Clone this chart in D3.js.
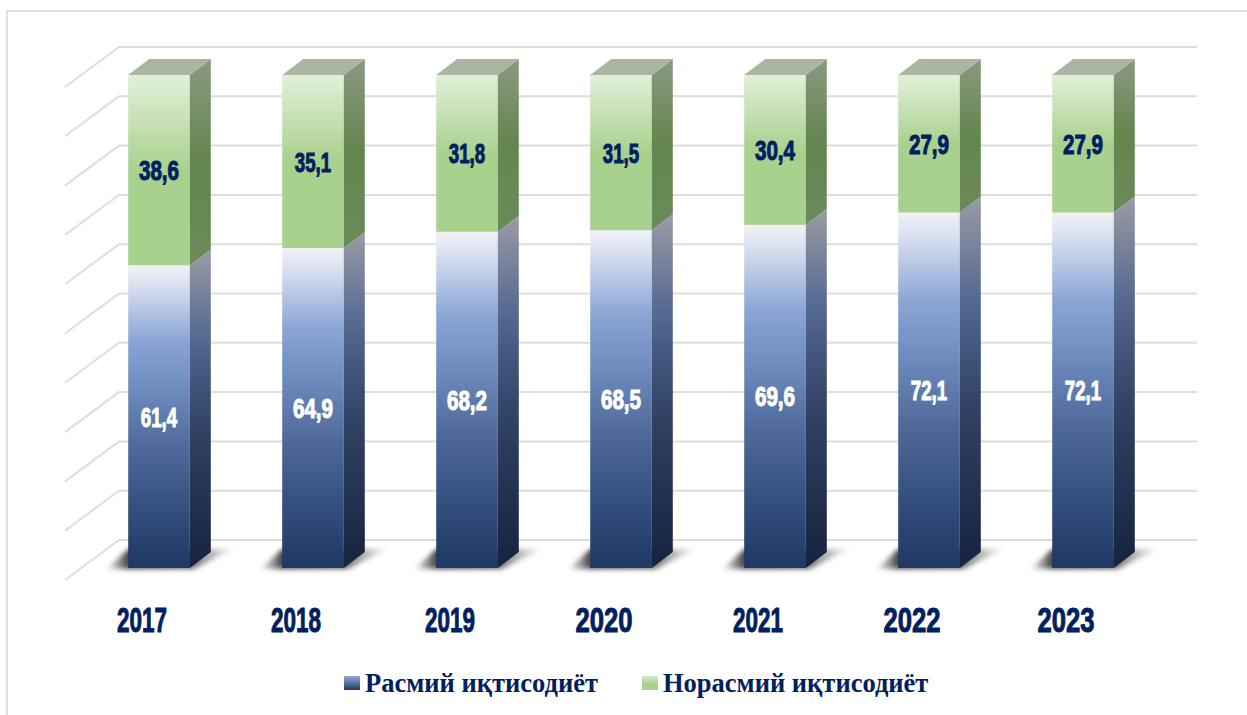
<!DOCTYPE html>
<html>
<head>
<meta charset="utf-8">
<script src="https://cdnjs.cloudflare.com/ajax/libs/d3/7.8.5/d3.min.js"></script>
<style>
  html, body { margin: 0; padding: 0; background: #fff; overflow: hidden; }
</style>
</head>
<body>
<div id="chart"></div>
<script>
// Data
const years = ["2017", "2018", "2019", "2020", "2021", "2022", "2023"];
const formal = [61.4, 64.9, 68.2, 68.5, 69.6, 72.1, 72.1];
const informal = [38.6, 35.1, 31.8, 31.5, 30.4, 27.9, 27.9];
const gridTicks = [0, 10, 20, 30, 40, 50, 60, 70, 80, 90, 100];
const seriesNames = ["Расмий иқтисодиёт", "Норасмий иқтисодиёт"];

const width = 1247, height = 715;
const navy = "#002060";

const svg = d3.select("#chart")
  .append("svg")
  .attr("width", width)
  .attr("height", height);

// Frame of the picture (top and left only)
svg.append("path")
  .attr("d", "M7,715V11H1247")
  .attr("fill", "none")
  .attr("stroke", "#e0e0e0")
  .attr("stroke-width", 2);

// Scales for the front plane of the 3D box
const xScale = d3.scaleBand()
  .domain(years)
  .range([65, 1143])
  .paddingInner(0.6)
  .paddingOuter(0.3);

const yScale = d3.scaleLinear()
  .domain([0, 100])
  .range([580, 87]);

// 3D offsets
const back = { x: 54, y: -40 };
const barShift = { x: 17, y: -12 };
const depth = { x: 21, y: -16 };

const defs = svg.append("defs");

function addGradient(id, stops, horizontal) {
  const g = defs.append("linearGradient")
    .attr("id", id)
    .attr("x1", 0).attr("y1", 0)
    .attr("x2", horizontal ? 1 : 0).attr("y2", horizontal ? 0 : 1);
  stops.forEach(s => g.append("stop")
    .attr("offset", s[0])
    .attr("stop-color", s[1])
    .attr("stop-opacity", s[2] === undefined ? 1 : s[2]));
}

addGradient("blueFront", [[0, "#f2f2f6"], [0.08, "#d3dcee"], [0.25, "#8aa5d5"], [0.38, "#7390c4"], [0.6, "#4f6a9a"], [0.8, "#34507f"], [1, "#1f3864"]]);
addGradient("blueSide", [[0, "#9b9ba6"], [0.25, "#5a6d92"], [0.38, "#46597f"], [0.6, "#2e3f60"], [1, "#15233f"]]);
addGradient("greenFront", [[0, "#e2f0d9"], [0.5, "#a9d18e"], [1, "#a9d18e"]]);
addGradient("greenSide", [[0, "#8a9a80"], [0.5, "#64854f"], [1, "#6b8a5a"]]);
addGradient("legendBlue", [[0, "#8faadc"], [1, "#1f3864"]]);
addGradient("legendGreen", [[0, "#d5e8c8"], [0.6, "#a9d18e"], [1, "#a9d18e"]]);
addGradient("floorShadow", [[0, "#777", 0.1], [0.17, "#444", 1], [0.65, "#555", 0.95], [1, "#999", 0.1]], true);

defs.append("filter")
  .attr("id", "blur")
  .attr("x", "-20%").attr("y", "-50%")
  .attr("width", "140%").attr("height", "200%")
  .append("feGaussianBlur")
  .attr("stdDeviation", 2.5);

// Gridlines: back wall and left wall
const grid = svg.append("g")
  .attr("stroke", "#dddddd")
  .attr("stroke-width", 2)
  .attr("fill", "none");

grid.selectAll("path")
  .data(gridTicks)
  .enter().append("path")
  .attr("d", d => {
    const x0 = xScale.range()[0], x1 = xScale.range()[1];
    const y = yScale(d);
    return `M${x0},${y}L${x0 + back.x},${y + back.y}H${x1 + back.x}`;
  });

// Soft shadow on the floor
const barW = xScale.bandwidth();
svg.append("g")
  .selectAll("path")
  .data(years)
  .enter().append("path")
  .attr("filter", "url(#blur)")
  .attr("fill", "url(#floorShadow)")
  .attr("d", d => {
    const x0 = xScale(d) + barShift.x, y0 = yScale(0) + barShift.y;
    return `M${x0 - 22},${y0 + 1}L${x0 + barW + 4},${y0 + 1}L${x0 + barW + 44},${y0 - 19}L${x0},${y0 - 19}Z`;
  });

// Stacked 3D bars
function drawSegment(year, from, to, front, side) {
  const x0 = xScale(year) + barShift.x;
  const x1 = x0 + barW;
  const yTop = yScale(to) + barShift.y;
  const yBot = yScale(from) + barShift.y;
  svg.append("rect")
    .attr("x", x0).attr("y", yTop)
    .attr("width", barW).attr("height", yBot - yTop)
    .attr("fill", `url(#${front})`);
  svg.append("path")
    .attr("d", `M${x1},${yTop}L${x1 + depth.x},${yTop + depth.y}V${yBot + depth.y}L${x1},${yBot}Z`)
    .attr("fill", `url(#${side})`);
}

years.forEach((year, i) => {
  const total = formal[i] + informal[i];
  drawSegment(year, 0, formal[i], "blueFront", "blueSide");
  drawSegment(year, formal[i], total, "greenFront", "greenSide");

  const x0 = xScale(year) + barShift.x;
  const yTop = yScale(total) + barShift.y;
  svg.append("path")
    .attr("d", `M${x0},${yTop}L${x0 + depth.x},${yTop + depth.y}H${x0 + barW + depth.x}L${x0 + barW},${yTop}Z`)
    .attr("fill", "#aab5a2");
});

// The original face has a narrow "1", so the width depends on the characters
function textWidth(text, digit, one, comma) {
  let w = 0;
  for (const c of text) {
    w += c === "1" ? one : c === "," ? comma : digit;
  }
  return w;
}

// Narrow heavy text: squeeze a bold face to the width seen in the picture
function narrowText(x, y, text, size, w, color) {
  svg.append("text")
    .attr("x", x)
    .attr("y", y)
    .attr("text-anchor", "middle")
    .attr("font-family", "'Liberation Sans', Arial, sans-serif")
    .attr("font-weight", 700)
    .attr("font-size", size)
    .attr("fill", color)
    .attr("stroke", color)
    .attr("stroke-width", 1)
    .attr("textLength", w)
    .attr("lengthAdjust", "spacingAndGlyphs")
    .text(text);
}

years.forEach((year, i) => {
  const cx = xScale(year) + barShift.x + barW / 2;
  const yFormal = yScale(formal[i] / 2) + barShift.y;
  const yInformal = yScale(formal[i] + informal[i] / 2) + barShift.y;
  const a = String(formal[i]).replace(".", ",");
  const b = String(informal[i]).replace(".", ",");
  narrowText(cx, yFormal + 10, a, 27, textWidth(a, 11.4, 7.5, 6), "#ffffff");
  narrowText(cx, yInformal + 10, b, 27, textWidth(b, 11.4, 7.5, 6), navy);
  narrowText(xScale(year) + barW / 2, 632, year, 35, textWidth(year, 14.25, 7.25, 0), navy);
});

// Legend
const legendItems = [
  { name: seriesNames[0], fill: "url(#legendBlue)", sx: 344, tx: 365 },
  { name: seriesNames[1], fill: "url(#legendGreen)", sx: 642, tx: 663 }
];
const legend = svg.append("g");
legend.selectAll("rect")
  .data(legendItems)
  .enter().append("rect")
  .attr("x", d => d.sx)
  .attr("y", 676)
  .attr("width", 16)
  .attr("height", 14)
  .attr("fill", d => d.fill);
legend.selectAll("text")
  .data(legendItems)
  .enter().append("text")
  .attr("x", d => d.tx)
  .attr("y", 692)
  .attr("font-family", "'Liberation Serif', 'Times New Roman', serif")
  .attr("font-weight", 700)
  .attr("font-size", 26.5)
  .attr("fill", navy)
  .text(d => d.name);
</script>
</body>
</html>
